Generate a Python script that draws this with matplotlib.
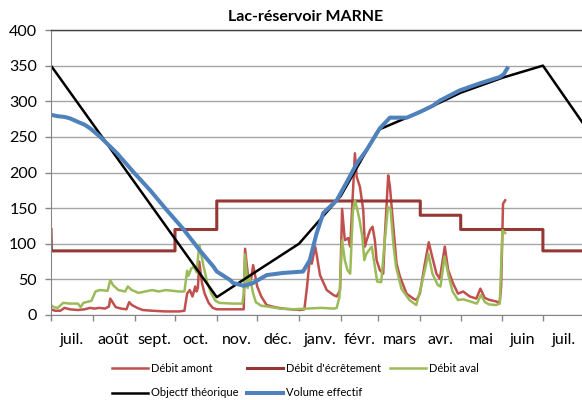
import matplotlib
matplotlib.use("Agg")
import matplotlib.pyplot as plt
import pandas as pd
import numpy as np

plt.rcParams['font.family'] = ['Lato', 'DejaVu Sans']

start = pd.Timestamp("2012-07-01")

# ---- data (day offsets from 1 July) ----
amont_day = [0, 3, 7, 10, 14, 20, 25, 29, 32, 36, 40, 43, 44, 46, 48, 52, 56, 58, 60, 64, 68, 75,
             85, 95, 99, 101, 103, 105, 107, 108, 109, 110, 112, 114, 117, 120, 123, 130, 143, 144,
             146, 148, 150, 153, 156, 160, 166, 172, 178, 185, 188, 190, 191, 192, 193.5, 196, 197,
             199.6, 204.6, 209.6, 212, 214.5, 216, 218, 220.5, 222, 225.5, 226.8, 229.2, 231.7, 232.9,
             234.2, 236.7, 238.6, 240.3, 241.6, 244, 246.5, 247.7, 250.2, 251.5, 254, 256.4, 258.9,
             263.8, 268.8, 271.2, 273.7, 277.4, 280.3, 282.3, 286, 288.5, 292.2, 294.7, 298.4, 302,
             305.8, 310.7, 315.6, 318.6, 321.8, 325.5, 330.4, 332.9, 334, 335.4, 337]
amont_val = [8, 6, 6, 10, 8, 7, 8, 10, 9, 10, 9, 12, 23, 17, 11, 9, 8, 18, 14, 10, 7, 6,
             5, 5, 6, 30, 35, 26, 40, 33, 38, 75, 45, 30, 17, 10, 8, 8, 8, 93,
             58, 45, 70, 40, 26, 14, 11, 9, 8, 7, 8, 40, 60, 77, 72, 96, 86,
             56, 35, 28, 26, 35, 149, 105, 108, 96, 227, 194, 180, 147, 96,
             105, 119, 124, 105, 77, 63, 58, 110, 196, 180, 124, 72, 54,
             30, 23, 21, 30, 72, 102, 86, 58, 51, 96, 63, 44, 30,
             33, 26, 23, 37, 24, 21, 19, 17, 40, 156, 161]

aval_day = [0, 2, 5, 9, 14, 20, 22, 24, 30, 33, 36, 42, 44, 46, 50, 55, 57, 60, 65, 70, 75, 80, 85,
            90, 95, 99, 101, 102, 104, 106, 108, 110, 111, 113, 116, 119, 122, 125, 135, 142, 143,
            144, 146, 147, 148, 150, 152, 156, 160, 170, 180, 190, 200, 210, 212, 214, 216, 218,
            220, 222, 224, 225.5, 227, 229, 231, 232.5, 234, 236, 238, 240, 242, 245, 247, 250,
            252, 254, 256, 260, 266, 271, 274, 278, 280, 283, 287, 289, 292, 295, 298, 302, 306,
            311, 316, 319, 322, 325, 330, 333, 335, 337]
aval_val = [14, 11, 10, 17, 16, 16, 11, 17, 20, 33, 35, 34, 49, 42, 35, 33, 40, 35, 31, 33, 35, 33, 35,
            34, 33, 33, 62, 55, 65, 68, 60, 98, 90, 70, 45, 30, 20, 17, 16, 16, 30,
            85, 38, 55, 49, 30, 18, 13, 12, 9, 8, 9, 10, 9, 10, 25, 105, 77,
            63, 58, 145, 161, 150, 133, 110, 77, 86, 91, 96, 72, 47, 46, 90, 152,
            148, 100, 68, 37, 21, 14, 35, 68, 86, 58, 42, 40, 82, 55, 33, 21, 22,
            19, 16, 28, 18, 15, 14, 16, 119, 115]

ecret_day = [0, 0.3, 92, 92, 123, 123, 274, 274, 304, 304, 365, 365, 394]
ecret_val = [120, 90, 90, 120, 120, 160, 160, 140, 140, 120, 120, 90, 90]

obj_day = [0, 123, 153, 184, 215, 243, 274, 304, 335, 365, 394]
obj_val = [350, 25, 62, 100, 167, 260, 285, 312, 333, 350, 271]

vol_day = [0, 5, 10, 14, 20, 25, 29, 36.5, 49, 61, 73.6, 86, 98, 110.7, 120.5, 123, 133, 135, 143,
           150, 160, 172, 187, 192, 197, 202, 212, 219, 227, 234, 244, 251.5, 264, 273.8, 283.6,
           288.6, 303, 318, 333, 336, 338.5]
vol_val = [281, 279, 278, 276, 271, 267, 262, 250, 227, 201, 175, 147, 121, 90, 68, 61, 49, 45, 41,
           45, 56, 59, 61, 77, 114, 143, 161, 185, 213, 231, 262, 277, 277, 285, 294,
           301, 315, 325, 334, 338, 346]

month_labels = ["juil.", "août", "sept.", "oct.", "nov.", "déc.", "janv.", "févr.",
                "mars", "avr.", "mai", "juin", "juil."]

def to_dates(days):
    return start + pd.to_timedelta(np.asarray(days, dtype=float), unit="D")

fig = plt.figure(figsize=(5.82, 4.0), dpi=100)
ax = fig.add_axes([51/582, 1 - 315/400, 1 - 51/582, (315 - 30)/400])

h1, = ax.plot(to_dates(amont_day), amont_val, color="#C0504D", lw=1.8, label="Débit amont")
h2, = ax.plot(to_dates(ecret_day), ecret_val, color="#953735", lw=2.2, label="Débit d'écrêtement")
h3, = ax.plot(to_dates(aval_day), aval_val, color="#9BBB59", lw=1.8, label="Débit aval")
h4, = ax.plot(to_dates(obj_day), obj_val, color="black", lw=1.8, label="Objectf théorique")
h5, = ax.plot(to_dates(vol_day), vol_val, color="#4F81BD", lw=2.9, label="Volume effectif")

ax.set_ylim(0, 400)
ax.set_yticks(range(0, 401, 50))
ax.set_xlim(start, start + pd.Timedelta(days=394))

month_starts = pd.date_range(start, periods=14, freq="MS")
mids = [month_starts[i] + (month_starts[i + 1] - month_starts[i]) / 2 for i in range(13)]
ax.set_xticks(month_starts[:13])
ax.set_xticklabels([])
ax.set_xticks(mids, minor=True)
ax.set_xticklabels(month_labels, minor=True)
ax.tick_params(axis="x", which="major", length=4, color="#868686", width=1, direction="out")
ax.tick_params(axis="x", which="minor", length=0, pad=13, labelsize=11.5)
ax.tick_params(axis="y", length=4, color="#868686", width=1, pad=6, labelsize=11.5)

ax.grid(axis="y", color="#A6A6A6", lw=1)
ax.set_axisbelow(True)
ax.spines["right"].set_visible(False)
ax.spines["top"].set_color("#404040")
ax.spines["top"].set_linewidth(1)
ax.spines["left"].set_color("#868686")
ax.spines["bottom"].set_color("#868686")

fig.text(306/582, 1 - 17/400, "Lac-réservoir MARNE", ha="center", va="center",
         fontsize=11.5, fontweight="bold")

leg = fig.legend([h1, h4, h2, h5, h3],
           ["Débit amont", "Objectf théorique", "Débit d'écrêtement", "Volume effectif", "Débit aval"],
           ncol=3, loc="center left", bbox_to_anchor=(102/582, 1 - 380.5/400), frameon=False,
           fontsize=8, handlelength=3.2, handletextpad=0.3, columnspacing=0.8, labelspacing=1.25)

fig.savefig("out.png", dpi=100)
